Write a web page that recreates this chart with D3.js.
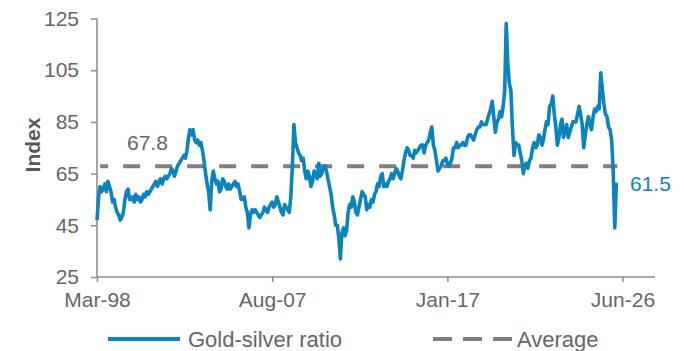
<!DOCTYPE html>
<html>
<head>
<meta charset="utf-8">
<script src="https://cdn.jsdelivr.net/npm/d3@7"></script>
<style>
  body { margin: 0; background: #fff; }
  svg { display: block; font-family: "Liberation Sans", Arial, sans-serif; }
</style>
</head>
<body>
<svg id="chart" width="684" height="351"></svg>
<script>
// ---- Data (monthly gold-silver ratio, starting Mar-1998) ----
const startMonth = "1998-03";
const ratio = [
  // 1998 (Mar-Dec)
  47, 56, 60, 58, 59, 61, 58, 62, 60, 58,
  // 1999
  54, 55, 52, 50, 49, 47, 48, 50, 55, 58, 59, 55,
  // 2000
  55, 56, 54, 57, 55, 56, 54, 55, 57, 56, 58, 57,
  // 2001
  58, 59, 60, 61, 62, 60, 62, 63, 61, 63, 64, 63,
  // 2002
  64, 65, 67, 66, 64, 66, 68, 69, 70, 71, 72, 71,
  // 2003
  74, 79, 82, 80, 82, 78, 77, 78, 76, 77, 74, 70,
  // 2004
  65, 61, 58, 51, 62, 66, 63, 61, 62, 58, 59, 63,
  // 2005
  62, 60, 59, 61, 59, 60, 61, 62, 60, 61, 58, 55,
  // 2006
  55, 56, 52, 50, 44, 49, 51, 50, 51, 50, 49, 48,
  // 2007
  49, 50, 52, 51, 50, 52, 53, 54, 52, 53, 56, 54,
  // 2008
  52, 50, 49, 53, 52, 51, 50, 56, 68, 84, 77, 75,
  // 2009
  73, 72, 70, 71, 66, 63, 66, 64, 60, 62, 66, 65,
  // 2010
  63, 69, 64, 65, 67, 68, 66, 63, 60, 57, 52, 49,
  // 2011
  45, 45, 40, 32, 42, 44, 41, 43, 50, 53, 52, 56,
  // 2012
  54, 50, 49, 52, 55, 58, 57, 56, 51, 53, 52, 55,
  // 2013
  54, 57, 58, 61, 60, 64, 65, 60, 61, 60, 62, 63,
  // 2014
  65, 63, 65, 67, 66, 64, 63, 66, 70, 73, 75, 74,
  // 2015
  72, 72, 71, 74, 73, 74, 75, 76, 76, 73, 76, 77,
  // 2016
  78, 81, 83, 76, 74, 70, 66, 67, 68, 70, 70, 71,
  // 2017
  69, 68, 69, 71, 75, 75, 77, 75, 76, 76, 77, 76,
  // 2018
  76, 79, 80, 80, 79, 78, 80, 82, 83, 83, 85, 84,
  // 2019
  84, 84, 86, 88, 90, 93, 87, 81, 85, 86, 89, 87,
  // 2020
  91, 97, 123, 108, 100, 97, 83, 72, 77, 76, 76, 73,
  // 2021
  70, 65, 68, 69, 67, 70, 71, 75, 77, 75, 76, 80,
  // 2022
  79, 76, 78, 82, 85, 84, 91, 92, 95, 88, 83, 76,
  // 2023
  79, 84, 86, 79, 82, 84, 79, 81, 83, 85, 85, 85,
  // 2024
  88, 91, 88, 84, 75, 80, 84, 87, 84, 82, 87, 90,
  // 2025
  89, 91, 90, 104, 98, 92, 88, 87, 83, 82, 78, 66,
  // 2026
  44, 61.5
];
const averageValue = 67.8;
const lastLabel = "61.5";
const yTicks = [25, 45, 65, 85, 105, 125];
const xTickDates = ["1998-03", "2007-08", "2017-01", "2026-06"];
const xTickLabels = ["Mar-98", "Aug-07", "Jan-17", "Jun-26"];
const xDomain = ["1998-03", "2028-03"];
const seriesNames = ["Gold-silver ratio", "Average"];

// ---- Setup ----
const parse = d3.timeParse("%Y-%m");
const start = parse(startMonth);
const data = ratio.map((v, i) => ({ date: d3.timeMonth.offset(start, i), value: v }));

const svg = d3.select("#chart");
const mLeft = 97, mRight = 655, mTop = 18.5, mBottom = 277;
const blue = "#0b84bd";
const grey = "#7f7f7f";
const axisColor = "#8a8a8a";
const textColor = "#666666";

const x = d3.scaleTime().domain(xDomain.map(parse)).range([mLeft, mRight]);
const y = d3.scaleLinear().domain([25, 125]).range([mBottom, mTop]);

// ---- Axes ----
const yAxis = d3.axisLeft(y).tickValues(yTicks).tickSize(6).tickPadding(12).tickFormat(d3.format("d"));
const gy = svg.append("g").attr("transform", `translate(${mLeft},0)`).call(yAxis);
const xAxis = d3.axisBottom(x).tickValues(xTickDates.map(parse)).tickSize(5).tickPadding(10)
  .tickFormat((d, i) => xTickLabels[i]);
const gx = svg.append("g").attr("transform", `translate(0,${mBottom})`).call(xAxis);

[gx, gy].forEach(g => {
  g.select(".domain").attr("stroke", axisColor).attr("stroke-width", 1.5);
  g.selectAll(".tick line").attr("stroke", axisColor).attr("stroke-width", 1.5);
  g.selectAll(".tick text").attr("fill", textColor).style("font-size", "21px")
    .style("font-family", "'Liberation Sans', Arial, sans-serif");
});
gy.select(".domain").attr("d", `M0,${mBottom}V${mTop}`);
gx.select(".domain").attr("d", `M${mLeft},0H${mRight}`);

// Y title
svg.append("text")
  .attr("transform", `translate(40,145) rotate(-90)`)
  .attr("text-anchor", "middle")
  .attr("fill", "#595959")
  .style("font-size", "21px").style("font-weight", "bold")
  .text("Index");

// ---- Average line ----
const lastDate = data[data.length - 1].date;
svg.append("line")
  .attr("x1", x(parse("1998-05"))).attr("x2", x(lastDate) + 1)
  .attr("y1", y(averageValue)).attr("y2", y(averageValue))
  .attr("stroke", grey).attr("stroke-width", 4)
  .attr("stroke-dasharray", "17,15").attr("stroke-dashoffset", 9);

// ---- Series line ----
const line = d3.line().x(d => x(d.date)).y(d => y(d.value));
svg.append("path").datum(data)
  .attr("d", line)
  .attr("fill", "none")
  .attr("stroke", blue)
  .attr("stroke-width", 3.6)
  .attr("stroke-linejoin", "round");

// ---- Labels ----
svg.append("text")
  .attr("x", 127).attr("y", 150)
  .attr("fill", textColor).style("font-size", "21px")
  .text(averageValue.toFixed(1));
svg.append("text")
  .attr("x", 630).attr("y", y(61.5) + 8)
  .attr("fill", blue).style("font-size", "21px")
  .text(lastLabel);

// ---- Legend ----
const ly = 339;
svg.append("line").attr("x1", 108).attr("x2", 180).attr("y1", ly).attr("y2", ly)
  .attr("stroke", blue).attr("stroke-width", 4);
svg.append("text").attr("x", 188).attr("y", ly + 7.5)
  .attr("fill", textColor).style("font-size", "22px").text(seriesNames[0]);
svg.append("line").attr("x1", 433).attr("x2", 512).attr("y1", ly).attr("y2", ly)
  .attr("stroke", grey).attr("stroke-width", 4).attr("stroke-dasharray", "19,11");
svg.append("text").attr("x", 517).attr("y", ly + 7.5)
  .attr("fill", textColor).style("font-size", "22px").text(seriesNames[1]);
</script>
</body>
</html>
